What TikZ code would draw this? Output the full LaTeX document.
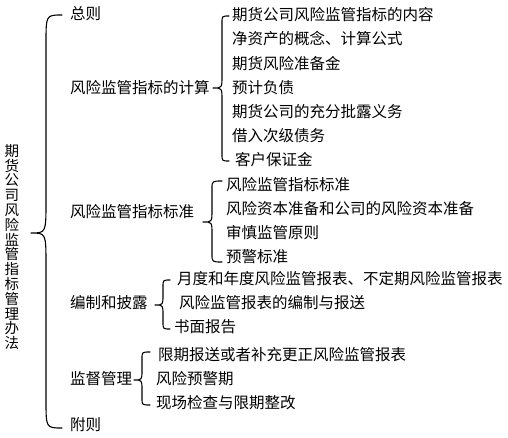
\documentclass[tikz,border=0pt]{standalone}
\usepackage{fontspec}
\newfontfamily\cjk{Noto Sans CJK SC}
\newcommand\bracedraw[8]{% #1 xh, #2 xl, #3 xt, #4 ytop, #5 ytip, #6 ybot, #7 hook r, #8 tip r
  \draw[brc] (#1,#4) .. controls (#2,#4) .. (#2,#4+#7) -- (#2,#5-#8)
    .. controls (#2,#5) .. (#3,#5) .. controls (#2,#5) .. (#2,#5+#8)
    -- (#2,#6-#7) .. controls (#2,#6) .. (#1,#6);}
\begin{document}
\begin{tikzpicture}[x=1pt,y=-1pt,
  every node/.style={font=\cjk\fontsize{15.5}{15.5}\selectfont, inner sep=0pt, anchor=west},
  brc/.style={line width=1.1pt, line cap=round, line join=round},
  titlestyle/.style={anchor=center, align=center, font=\cjk\fontsize{14.5}{14.8}\selectfont}]
\useasboundingbox (0,0) rectangle (508,438);
\fill[white] (0,0) rectangle (508,438);
% title
\node[titlestyle] (title) at (12,247) {期\\货\\公\\司\\风\\险\\监\\管\\指\\标\\管\\理\\办\\法};
% level 1
\node (zz) at (70,14) {总则};
\node (jisuan) at (70,88) {风险监管指标的计算};
\node (biaozhun) at (70,212) {风险监管指标标准};
\node (bianzhi) at (70,303) {编制和披露};
\node (jiandu) at (70,379) {监督管理};
\node (fuze) at (70,425) {附则};
% group 1
\node (a1) at (232,15) {期货公司风险监管指标的内容};
\node (a2) at (232,39) {净资产的概念、计算公式};
\node (a3) at (232,63.5) {期货风险准备金};
\node (a4) at (232,88) {预计负债};
\node (a5) at (232,112) {期货公司的充分批露义务};
\node (a6) at (232,136) {借入次级债务};
\node (a7) at (235,160) {客户保证金};
% group 2
\node (b1) at (226,185) {风险监管指标标准};
\node (b2) at (226,209) {风险资本准备和公司的风险资本准备};
\node (b3) at (226,233) {审慎监管原则};
\node (b4) at (226,257) {预警标准};
% group 3
\node (c1) at (177,279) {月度和年度风险监管报表、不定期风险监管报表};
\node (c2) at (179,303) {风险监管报表的编制与报送};
\node (c3) at (174,327) {书面报告};
% group 4
\node (d1) at (158,355) {限期报送或者补充更正风险监管报表};
\node (d2) at (156,379) {风险预警期};
\node (d3) at (156,403) {现场检查与限期整改};
% braces
\bracedraw{62}{46}{31}{15}{233}{428}{28}{32}
\bracedraw{229}{222}{213}{16}{88}{161}{7}{12}
\bracedraw{222}{212}{203}{181}{222}{262}{8}{12}
\bracedraw{170}{163}{155}{280}{305}{329}{7}{10}
\bracedraw{150}{142}{134}{352}{380}{405}{7}{10}
\end{tikzpicture}
\end{document}
